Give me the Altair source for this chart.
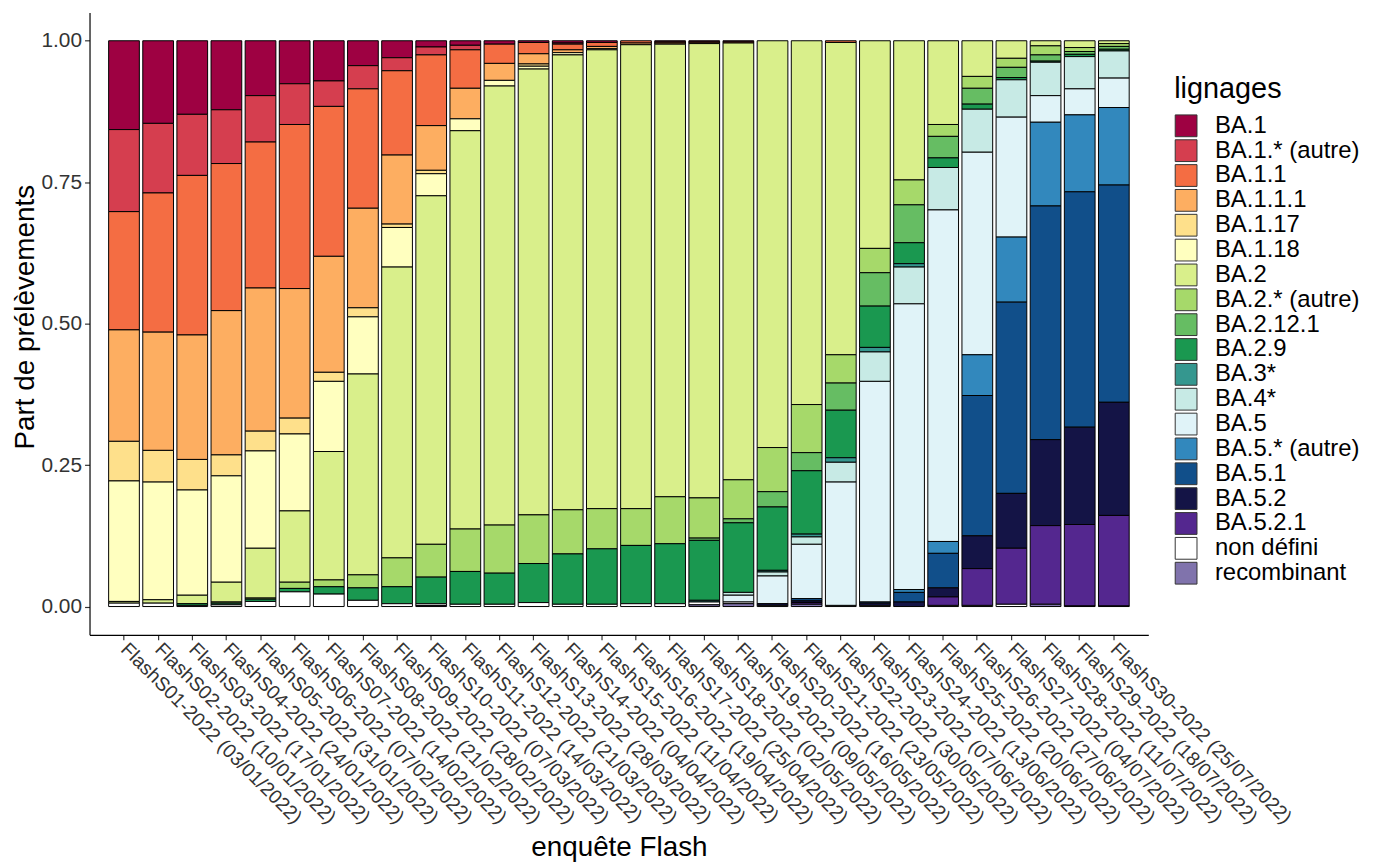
import altair as alt
import pandas as pd

enquetes = [
    "FlashS01-2022 (03/01/2022)", "FlashS02-2022 (10/01/2022)", "FlashS03-2022 (17/01/2022)",
    "FlashS04-2022 (24/01/2022)", "FlashS05-2022 (31/01/2022)", "FlashS06-2022 (07/02/2022)",
    "FlashS07-2022 (14/02/2022)", "FlashS08-2022 (21/02/2022)", "FlashS09-2022 (28/02/2022)",
    "FlashS10-2022 (07/03/2022)", "FlashS11-2022 (14/03/2022)", "FlashS12-2022 (21/03/2022)",
    "FlashS13-2022 (28/03/2022)", "FlashS14-2022 (04/04/2022)", "FlashS15-2022 (11/04/2022)",
    "FlashS16-2022 (19/04/2022)", "FlashS17-2022 (25/04/2022)", "FlashS18-2022 (02/05/2022)",
    "FlashS19-2022 (09/05/2022)", "FlashS20-2022 (16/05/2022)", "FlashS21-2022 (23/05/2022)",
    "FlashS22-2022 (30/05/2022)", "FlashS23-2022 (07/06/2022)", "FlashS24-2022 (13/06/2022)",
    "FlashS25-2022 (20/06/2022)", "FlashS26-2022 (27/06/2022)", "FlashS27-2022 (04/07/2022)",
    "FlashS28-2022 (11/07/2022)", "FlashS29-2022 (18/07/2022)", "FlashS30-2022 (25/07/2022)",
]

lignages = ["BA.1", "BA.1.* (autre)", "BA.1.1", "BA.1.1.1", "BA.1.17", "BA.1.18", "BA.2",
            "BA.2.* (autre)", "BA.2.12.1", "BA.2.9", "BA.3*", "BA.4*", "BA.5", "BA.5.* (autre)",
            "BA.5.1", "BA.5.2", "BA.5.2.1", "non défini", "recombinant"]

couleurs = ["#9E0142", "#D53E4F", "#F46D43", "#FDAE61", "#FEE08B", "#FFFFBF", "#D9EF8B",
            "#A6D96A", "#66BD63", "#1A9850", "#35978F", "#C7EAE5", "#E0F3F8", "#3288BD",
            "#114F8A", "#141446", "#54278F", "#FFFFFF", "#8073AC"]

ba1 = [0.157, 0.146, 0.130, 0.122, 0.097, 0.076, 0.071, 0.044, 0.030, 0.011,
       0.008, 0.006, 0.003, 0.004, 0.003, 0, 0.002, 0.002, 0.002, 0,
       0, 0, 0, 0, 0, 0, 0, 0, 0, 0]
ba1_autre = [0.145, 0.123, 0.108, 0.095, 0.082, 0.072, 0.045, 0.041, 0.023, 0.014,
             0.008, 0, 0, 0.002, 0, 0, 0, 0, 0, 0,
             0, 0, 0, 0, 0, 0, 0, 0, 0, 0]
ba1_1 = [0.209, 0.246, 0.282, 0.260, 0.258, 0.290, 0.265, 0.211, 0.149, 0.125,
         0.068, 0.034, 0.020, 0.010, 0.007, 0.004, 0.002, 0.002, 0.002, 0,
         0, 0.003, 0, 0, 0, 0, 0, 0, 0, 0]
ba1_1_1 = [0.197, 0.209, 0.220, 0.255, 0.253, 0.229, 0.205, 0.176, 0.122, 0.079,
           0.054, 0.030, 0.018, 0.005, 0.004, 0.003, 0.002, 0.001, 0, 0,
           0, 0, 0, 0, 0, 0, 0, 0, 0, 0]
ba1_17 = [0.070, 0.056, 0.054, 0.037, 0.035, 0.028, 0.016, 0.016, 0.006, 0.006,
          0, 0, 0.004, 0, 0, 0, 0, 0, 0, 0,
          0, 0, 0, 0, 0, 0, 0, 0, 0, 0]
ba1_18 = [0.213, 0.208, 0.186, 0.188, 0.172, 0.136, 0.124, 0.101, 0.070, 0.039,
          0.021, 0.010, 0.005, 0.004, 0.002, 0, 0, 0, 0, 0,
          0, 0, 0, 0, 0, 0, 0, 0, 0, 0]
ba2 = [0.003, 0.006, 0.015, 0.035, 0.088, 0.126, 0.227, 0.355, 0.514, 0.616,
       0.704, 0.776, 0.788, 0.804, 0.811, 0.820, 0.800, 0.803, 0.772, 0.719,
       0.643, 0.552, 0.367, 0.246, 0.148, 0.063, 0.031, 0.009, 0.012, 0.005]
ba2_autre = [0, 0, 0, 0.002, 0.002, 0.011, 0.012, 0.023, 0.051, 0.058,
             0.075, 0.085, 0.086, 0.078, 0.071, 0.065, 0.083, 0.071, 0.069, 0.078,
             0.085, 0.050, 0.043, 0.044, 0.021, 0.021, 0.016, 0.016, 0.007, 0.005]
ba2_12_1 = [0, 0, 0, 0, 0, 0, 0, 0, 0, 0,
            0, 0, 0, 0, 0, 0, 0, 0.004, 0.007, 0.027,
            0.032, 0.048, 0.059, 0.067, 0.038, 0.028, 0.018, 0.011, 0.005, 0.005]
ba2_9 = [0, 0, 0.003, 0.003, 0.004, 0.006, 0.013, 0.022, 0.030, 0.047,
         0.058, 0.055, 0.069, 0.089, 0.098, 0.103, 0.106, 0.106, 0.123, 0.112,
         0.112, 0.084, 0.073, 0.037, 0.017, 0.009, 0.004, 0.002, 0.004, 0.003]
ba3 = [0, 0, 0, 0, 0, 0, 0, 0, 0, 0,
       0, 0, 0, 0, 0, 0, 0, 0.003, 0, 0.003,
       0.005, 0.008, 0.008, 0.006, 0, 0, 0, 0, 0, 0]
ba4 = [0, 0, 0, 0, 0, 0, 0, 0, 0, 0,
       0, 0, 0, 0, 0, 0, 0, 0, 0.005, 0.007,
       0.013, 0.035, 0.052, 0.065, 0.075, 0.076, 0.066, 0.059, 0.057, 0.048]
ba5 = [0, 0, 0, 0, 0, 0, 0, 0, 0, 0,
       0, 0, 0, 0, 0, 0, 0, 0, 0.012, 0.049,
       0.096, 0.218, 0.390, 0.505, 0.586, 0.358, 0.212, 0.047, 0.046, 0.052]
ba5_autre = [0, 0, 0, 0, 0, 0, 0, 0, 0, 0,
             0, 0, 0, 0, 0, 0, 0, 0, 0, 0,
             0, 0, 0, 0.005, 0.021, 0.072, 0.115, 0.148, 0.136, 0.137]
ba5_1 = [0, 0, 0, 0, 0, 0, 0, 0, 0, 0,
         0, 0, 0, 0, 0, 0, 0, 0, 0, 0,
         0.004, 0, 0.002, 0.017, 0.061, 0.248, 0.338, 0.413, 0.416, 0.384]
ba5_2 = [0, 0, 0, 0, 0, 0, 0, 0, 0, 0,
         0, 0, 0, 0, 0, 0, 0, 0, 0, 0.003,
         0.003, 0, 0.004, 0.008, 0.016, 0.058, 0.097, 0.152, 0.172, 0.200]
ba5_2_1 = [0, 0, 0, 0, 0, 0, 0, 0, 0, 0,
           0, 0, 0, 0, 0, 0, 0, 0, 0, 0,
           0.003, 0, 0, 0, 0.015, 0.065, 0.099, 0.139, 0.144, 0.160]
non_defini = [0.006, 0.006, 0.002, 0.003, 0.009, 0.026, 0.022, 0.011, 0.005, 0.003,
              0.004, 0.004, 0.007, 0.004, 0.004, 0.005, 0.005, 0.005, 0.003, 0.002,
              0, 0.002, 0.002, 0, 0.002, 0.002, 0.004, 0, 0.001, 0.001]
recombinant = [0, 0, 0, 0, 0, 0, 0, 0, 0, 0.002,
               0, 0, 0, 0, 0, 0, 0, 0.003, 0.005, 0,
               0.004, 0, 0, 0, 0, 0, 0, 0.004, 0, 0]

series = [ba1, ba1_autre, ba1_1, ba1_1_1, ba1_17, ba1_18, ba2, ba2_autre, ba2_12_1, ba2_9,
          ba3, ba4, ba5, ba5_autre, ba5_1, ba5_2, ba5_2_1, non_defini, recombinant]

rows = []
for k, (lig, vals) in enumerate(zip(lignages, series)):
    for enq, v in zip(enquetes, vals):
        if v > 0:
            rows.append({"enquete": enq, "lignage": lig, "part": v, "ord": k})
df = pd.DataFrame(rows)

FONT = "Liberation Sans"

chart = alt.Chart(df).mark_bar(stroke="black", strokeWidth=1).encode(
    x=alt.X("enquete:N", sort=enquetes,
            scale=alt.Scale(paddingInner=0.1, paddingOuter=0.56),
            axis=alt.Axis(title="enquête Flash", labelAngle=45, labelAlign="left",
                          labelBaseline="middle", labelPadding=6, labelLimit=0,
                          labelOverlap=False, labelFontSize=19.5, labelColor="#333333",
                          titleFontSize=28, titleFontWeight="normal", titleColor="black",
                          titleY=222, titleBaseline="alphabetic",
                          domainColor="black", tickColor="#333333", tickSize=5,
                          domainWidth=1.2, tickWidth=1.2)),
    y=alt.Y("part:Q", stack="normalize",
            scale=alt.Scale(domain=[-0.05, 1.05], nice=False, zero=False),
            axis=alt.Axis(title="Part de prélèvements", values=[0, 0.25, 0.5, 0.75, 1.0],
                          labelExpr="format(datum.value, '.2f')",
                          grid=False, labelFontSize=21, labelColor="#333333",
                          labelPadding=3, titleFontSize=28, titleFontWeight="normal",
                          titleColor="black", titleX=-56, titleY=306,
                          titleBaseline="alphabetic", domainColor="black",
                          tickColor="#333333", tickSize=5, domainWidth=1.2, tickWidth=1.2)),
    color=alt.Color("lignage:N", scale=alt.Scale(domain=lignages, range=couleurs),
                    legend=alt.Legend(title="lignages", orient="none", legendX=1091,
                                      legendY=63, symbolType="square", symbolSize=480,
                                      symbolStrokeColor="#333333", symbolStrokeWidth=1,
                                      symbolOpacity=1, labelFontSize=24, titleFontSize=29,
                                      titleFontWeight="normal", titleColor="black",
                                      labelColor="black", labelLimit=0, labelOffset=17,
                                      rowPadding=-6, titlePadding=10)),
    order=alt.Order("ord:Q", sort="descending"),
).properties(
    width=1065, height=626,
    autosize=alt.AutoSizeParams(type="none"),
    padding={"left": 82, "top": 2, "right": 226, "bottom": 226},
).configure(font=FONT).configure_view(stroke=None, strokeWidth=0)

chart.save("out.html", embed_options={"renderer": "svg", "actions": False})
